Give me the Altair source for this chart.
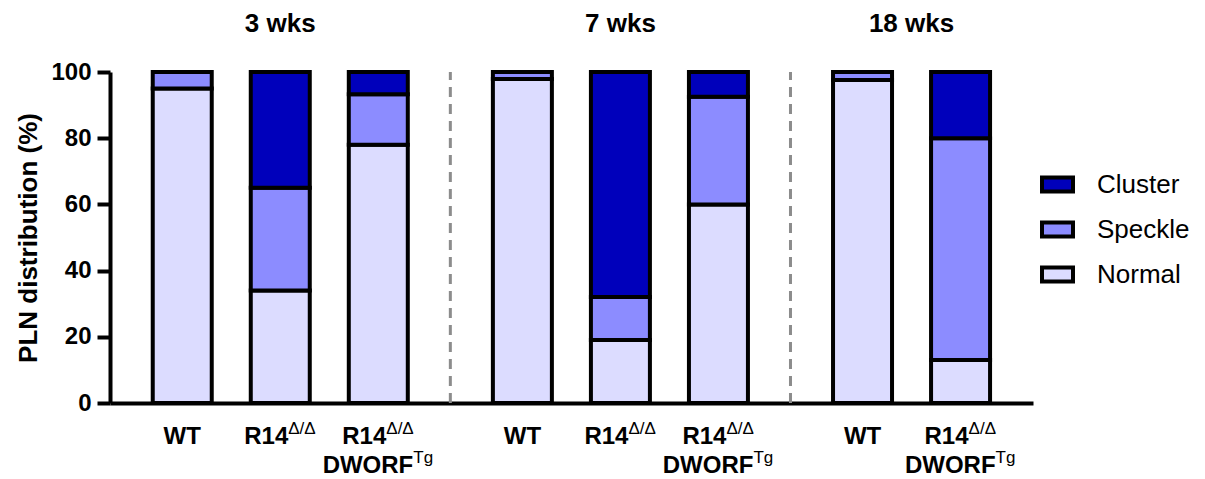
import altair as alt
import pandas as pd

# ---- data ----
groups = ["3 wks", "7 wks", "18 wks"]
bar_group = [0, 0, 0, 1, 1, 1, 2, 2]
label_base1 = ["WT", "R14", "R14", "WT", "R14", "R14", "WT", "R14"]
label_sup1 = ["", "Δ/Δ", "Δ/Δ", "", "Δ/Δ", "Δ/Δ", "", "Δ/Δ"]
label_base2 = ["", "", "DWORF", "", "", "DWORF", "", "DWORF"]
label_sup2 = ["", "", "Tg", "", "", "Tg", "", "Tg"]

normal = [95.0, 34.0, 78.0, 97.9, 19.0, 60.0, 97.6, 13.0]
speckle = [5.0, 31.0, 15.3, 2.1, 13.0, 32.5, 2.4, 67.0]
cluster = [0.0, 35.0, 6.7, 0.0, 68.0, 7.5, 0.0, 20.0]

categories = ["Cluster", "Speckle", "Normal"]
colors = ["#0000BB", "#8C8CFF", "#DCDCFF"]
y_ticks = [0, 20, 40, 60, 80, 100]

# ---- layout helpers ----
GAP = 0.47
pos = [i + GAP * g for i, g in enumerate(bar_group)]

rows = []
for i in range(len(pos)):
    for cat, vals, order in [("Normal", normal, 0), ("Speckle", speckle, 1), ("Cluster", cluster, 2)]:
        rows.append({"pos": pos[i], "cat": cat, "value": vals[i], "ord": order})
bars_df = pd.DataFrame(rows)

lab_df = pd.DataFrame({"pos": pos, "b1": label_base1, "s1": label_sup1,
                       "b2": label_base2, "s2": label_sup2})

group_pos = []
for g in range(len(groups)):
    ps = [p for p, gg in zip(pos, bar_group) if gg == g]
    group_pos.append(sum(ps) / len(ps))
title_df = pd.DataFrame({"group": groups, "pos": group_pos})

sep_pos = []
for g in range(len(groups) - 1):
    last = max(p for p, gg in zip(pos, bar_group) if gg == g)
    first = min(p for p, gg in zip(pos, bar_group) if gg == g + 1)
    sep_pos.append((last + first) / 2)
sep_df = pd.DataFrame({"pos": sep_pos})

FONT = "Liberation Sans"
xscale = alt.Scale(domain=[-0.686, 8.628], nice=False, zero=False)
yscale = alt.Scale(domain=[0, 100], nice=False)

seps = alt.Chart(sep_df).mark_rule(color="#8C8C8C", strokeWidth=3, strokeDash=[10, 7]).encode(
    x=alt.X("pos:Q", scale=xscale),
    y=alt.datum(0),
    y2=alt.datum(100),
)

bars = alt.Chart(bars_df).mark_bar(size=59, stroke="black", strokeWidth=4, strokeJoin="miter").encode(
    x=alt.X("pos:Q", scale=xscale,
            axis=alt.Axis(labels=False, ticks=False, title=None, grid=False,
                          domainWidth=4, domainColor="black")),
    y=alt.Y("value:Q", stack="zero", scale=yscale,
            axis=alt.Axis(values=y_ticks, title="PLN distribution (%)", grid=False,
                          labelFont=FONT, labelFontSize=24, labelFontWeight="bold", labelColor="black",
                          labelPadding=6, tickSize=13, tickWidth=4, tickColor="black",
                          domainWidth=4, domainColor="black",
                          titleFont=FONT, titleFontSize=26, titleFontWeight="bold",
                          titleColor="black", titlePadding=9)),
    color=alt.Color("cat:N", scale=alt.Scale(domain=categories, range=colors),
                    legend=alt.Legend(title=None, orient="none", legendX=930, legendY=95,
                                      symbolType="M-1,-0.45H1V0.45H-1Z", symbolSize=961,
                                      symbolStrokeColor="black", symbolStrokeWidth=4,
                                      symbolOpacity=1,
                                      labelFont=FONT, labelFontSize=26, labelColor="black",
                                      labelOffset=22, rowPadding=12)),
    order=alt.Order("ord:Q", sort="ascending"),
)

titles = alt.Chart(title_df).mark_text(font=FONT, fontSize=26, fontWeight="bold",
                                       baseline="alphabetic", align="center", color="black").encode(
    x=alt.X("pos:Q", scale=xscale), y=alt.value(-40), text="group:N")

base = alt.Chart(lab_df)
wt = base.transform_filter("datum.s1 == ''").mark_text(
    font=FONT, fontSize=24, fontWeight="bold", baseline="alphabetic", align="center", color="black"
).encode(x=alt.X("pos:Q", scale=xscale), y=alt.value(372), text="b1:N")
b1 = base.transform_filter("datum.s1 != ''").mark_text(
    font=FONT, fontSize=24, fontWeight="bold", baseline="alphabetic", align="right", dx=8, color="black"
).encode(x=alt.X("pos:Q", scale=xscale), y=alt.value(372), text="b1:N")
s1 = base.transform_filter("datum.s1 != ''").mark_text(
    font=FONT, fontSize=17, baseline="alphabetic", align="left", dx=8, color="black"
).encode(x=alt.X("pos:Q", scale=xscale), y=alt.value(362), text="s1:N")
b2 = base.transform_filter("datum.b2 != ''").mark_text(
    font=FONT, fontSize=24, fontWeight="bold", baseline="alphabetic", align="right", dx=35, color="black"
).encode(x=alt.X("pos:Q", scale=xscale), y=alt.value(401), text="b2:N")
s2 = base.transform_filter("datum.s2 != ''").mark_text(
    font=FONT, fontSize=17, baseline="alphabetic", align="left", dx=35, color="black"
).encode(x=alt.X("pos:Q", scale=xscale), y=alt.value(391), text="s2:N")

chart = alt.layer(seps, bars, titles, wt, b1, s1, b2, s2).properties(
    width=923, height=331, autosize="none",
    padding={"left": 102, "top": 64, "right": 164, "bottom": 76},
).configure_view(stroke=None)

chart.save("out.html", embed_options={"renderer": "svg", "actions": False})
